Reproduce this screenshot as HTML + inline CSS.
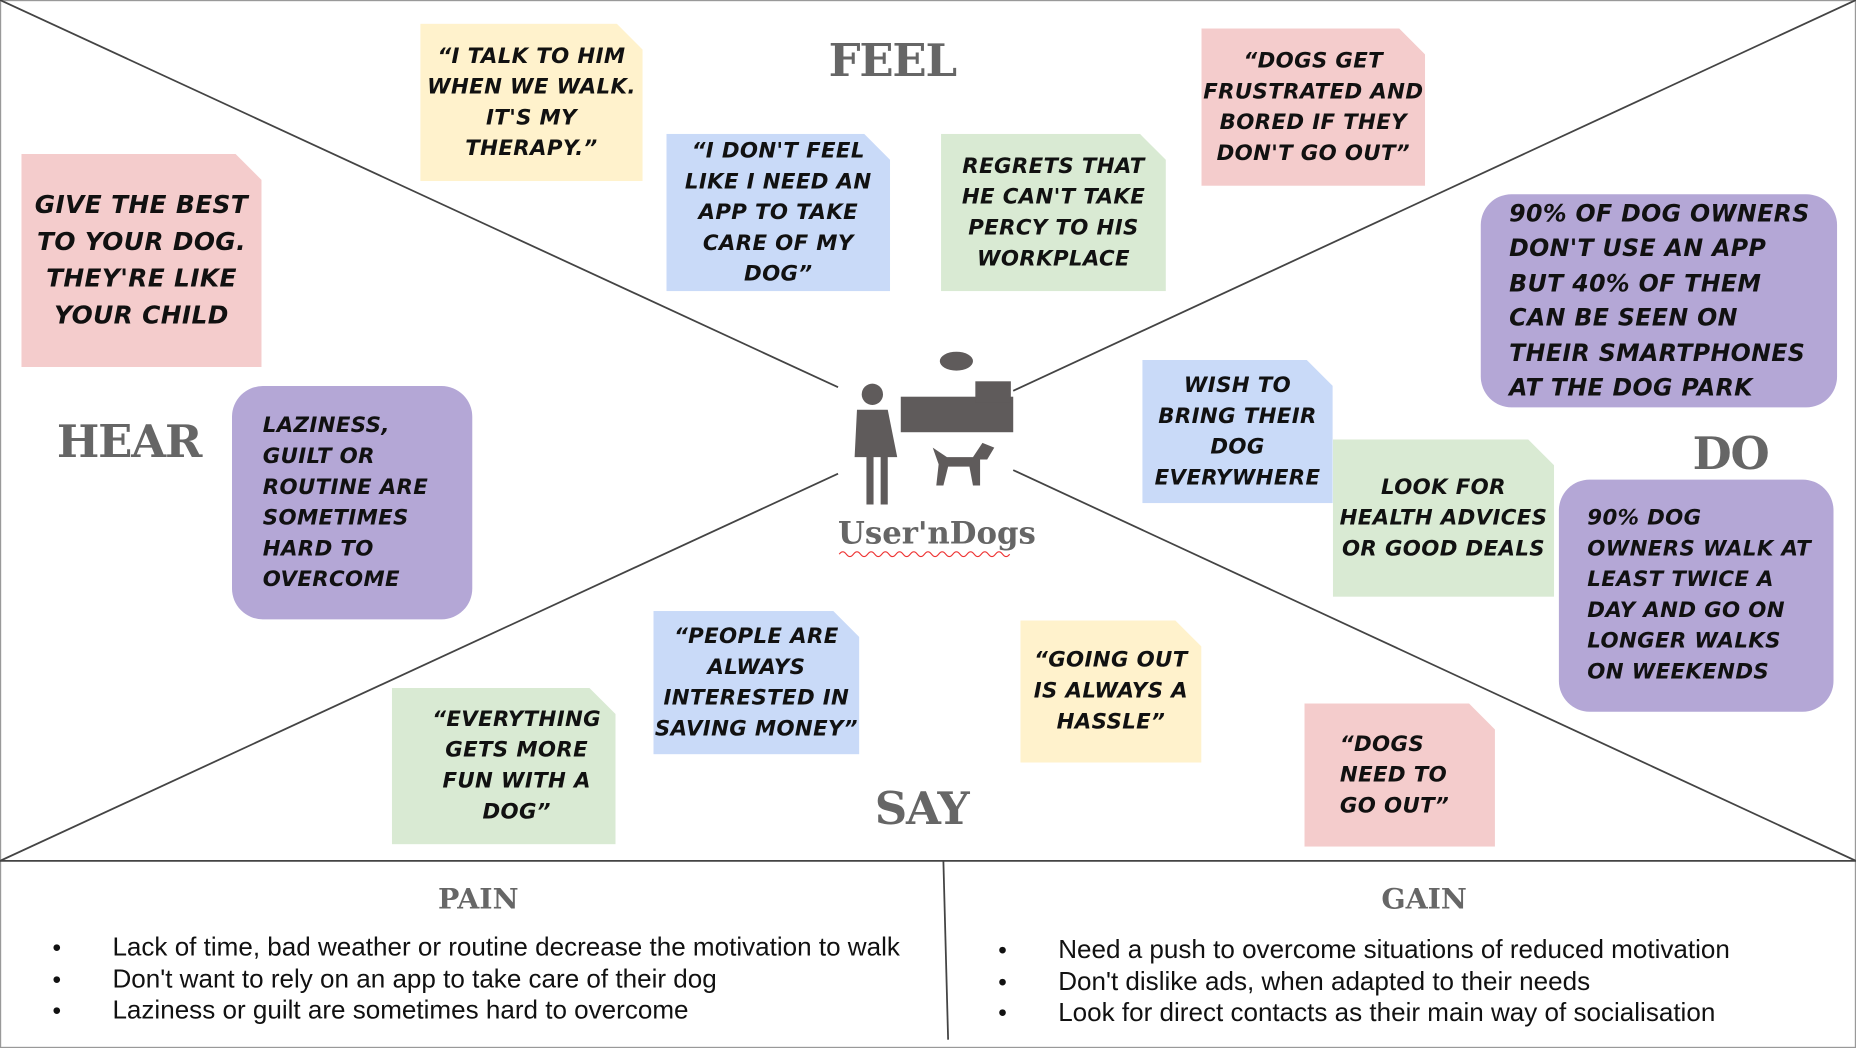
<!DOCTYPE html>
<html><head><meta charset="utf-8"><style>
html,body{margin:0;padding:0;background:#fff;overflow:hidden}
#wrap{width:1568px;height:885px;position:relative;transform:scale(1.18367,1.18418);transform-origin:0 0;background:#fff}
.n{position:absolute;display:flex;align-items:center;justify-content:center;text-align:center;font-family:"DejaVu Sans","Liberation Sans",sans-serif;font-style:italic;font-weight:bold;text-transform:uppercase;font-size:18px;line-height:26px;color:#111;letter-spacing:0.3px;box-sizing:border-box;padding:2px;white-space:nowrap}
.f{clip-path:polygon(0 0,calc(100% - 22px) 0,100% 22px,100% 100%,0 100%)}
.pk{background:#f4cccc}.ye{background:#fff2cc}.bl{background:#c9daf8}.gr{background:#d9ead3}.pu{background:#b4a7d6;border-radius:26px}
.t{position:absolute;font-family:"DejaVu Serif","Liberation Serif",serif;font-weight:900;color:#666;font-size:38px;letter-spacing:-1px}
.h{position:absolute;font-family:"DejaVu Serif","Liberation Serif",serif;font-weight:900;color:#666;font-size:24px}
ul{position:absolute;margin:0;padding:0;list-style:none;font-family:"Liberation Sans",sans-serif;font-size:22px;color:#111;line-height:26.5px}
li{position:relative;padding-left:51px}
li:before{content:"●";position:absolute;left:0;font-size:13px}
</style></head><body><div id="wrap">
<svg width="1568" height="885" style="position:absolute;left:0;top:0">
<rect x="0.5" y="0.5" width="1567" height="884" fill="none" stroke="#999"/>
<g stroke="#444" stroke-width="1.5">
<line x1="0" y1="0" x2="708" y2="327"/><line x1="1568" y1="0" x2="856" y2="330"/>
<line x1="0" y1="727" x2="708" y2="400"/><line x1="1568" y1="727" x2="856" y2="397"/>
<line x1="0" y1="727" x2="1568" y2="727"/><line x1="797" y1="727" x2="801" y2="878"/>
</g>
<g fill="#5f5b5b">
<circle cx="737" cy="333" r="9"/>
<path d="M724 346h26l8 40h-8v40h-6v-40h-6v40h-6v-40h-10z"/>
<rect x="761" y="335" width="95" height="30"/><rect x="824" y="322" width="30" height="18"/>
<ellipse cx="808" cy="305" rx="14" ry="8"/>
<path d="M788 378 l12 8 h22 l8 -12 l10 4 -6 10 -6 0 0 22 -6 0 -3 -16 -18 0 -4 16 -6 0 2 -18z"/>
</g>
<path d="M709 468 q3-4 6 0 t6 0 t6 0 t6 0 t6 0 t6 0 t6 0 t6 0 t6 0 t6 0 t6 0 t6 0 t6 0 t6 0 t6 0 t6 0 t6 0 t6 0 t6 0 t6 0 t6 0 t6 0 t6 0 t6 0 " fill="none" stroke="#e33" stroke-width="1"/>
</svg>
<div class="h" style="left:708px;top:436px;font-size:26px">User'nDogs</div>
<div class="t" style="left:700px;top:28px">FEEL</div>
<div class="t" style="left:48px;top:350px">HEAR</div>
<div class="t" style="left:1430px;top:360px">DO</div>
<div class="t" style="left:739px;top:660px">SAY</div>
<div class="h" style="left:370px;top:744px">PAIN</div>
<div class="h" style="left:1167px;top:744px">GAIN</div>
<div class="n f pk" style="left:18px;top:130px;width:203px;height:180px;font-size:21px;line-height:31px">Give the best<br>to your dog.<br>They're like<br>your child</div>
<div class="n f ye" style="left:355px;top:20px;width:188px;height:133px">“I talk to him<br>when we walk.<br>It's my<br>therapy.”</div>
<div class="n f bl" style="left:563px;top:113px;width:189px;height:133px">“I don't feel<br>like I need an<br>app to take<br>care of my<br>dog”</div>
<div class="n f gr" style="left:795px;top:113px;width:190px;height:133px">Regrets that<br>he can't take<br>Percy to his<br>workplace</div>
<div class="n f pk" style="left:1015px;top:24px;width:189px;height:133px">“Dogs get<br>frustrated and<br>bored if they<br>don't go out”</div>
<div class="n pu" style="left:1251px;top:164px;width:301px;height:180px;font-size:20px;line-height:29.5px;justify-content:flex-start;text-align:left;padding-left:24px">90% of dog owners<br>don't use an app<br>but 40% of them<br>can be seen on<br>their smartphones<br>at the dog park</div>
<div class="n pu" style="left:196px;top:326px;width:203px;height:197px;justify-content:flex-start;text-align:left;padding-left:26px">Laziness,<br>guilt or<br>routine are<br>sometimes<br>hard to<br>overcome</div>
<div class="n f bl" style="left:965px;top:304px;width:161px;height:121px">Wish to<br>bring their<br>dog<br>everywhere</div>
<div class="n f gr" style="left:1126px;top:371px;width:187px;height:133px">Look for<br>health advices<br>or good deals</div>
<div class="n pu" style="left:1317px;top:405px;width:232px;height:196px;justify-content:flex-start;text-align:left;padding-left:24px">90% dog<br>owners walk at<br>least twice a<br>day and go on<br>longer walks<br>on weekends</div>
<div class="n f bl" style="left:552px;top:516px;width:174px;height:121px">“People are<br>always<br>interested in<br>saving money”</div>
<div class="n f ye" style="left:862px;top:524px;width:153px;height:120px">“Going out<br>is always a<br>hassle”</div>
<div class="n f gr" style="left:331px;top:581px;width:189px;height:132px;padding-left:24px">“Everything<br>gets more<br>fun with a<br>dog”</div>
<div class="n f pk" style="left:1102px;top:594px;width:161px;height:121px;justify-content:flex-start;text-align:left;padding-left:30px">“Dogs<br>need to<br>go out”</div>
<ul style="left:44px;top:787px"><li>Lack of time, bad weather or routine decrease the motivation to walk</li><li>Don't want to rely on an app to take care of their dog</li><li>Laziness or guilt are sometimes hard to overcome</li></ul>
<ul style="left:843px;top:789px"><li>Need a push to overcome situations of reduced motivation</li><li>Don't dislike ads, when adapted to their needs</li><li>Look for direct contacts as their main way of socialisation</li></ul>
</div></body></html>
